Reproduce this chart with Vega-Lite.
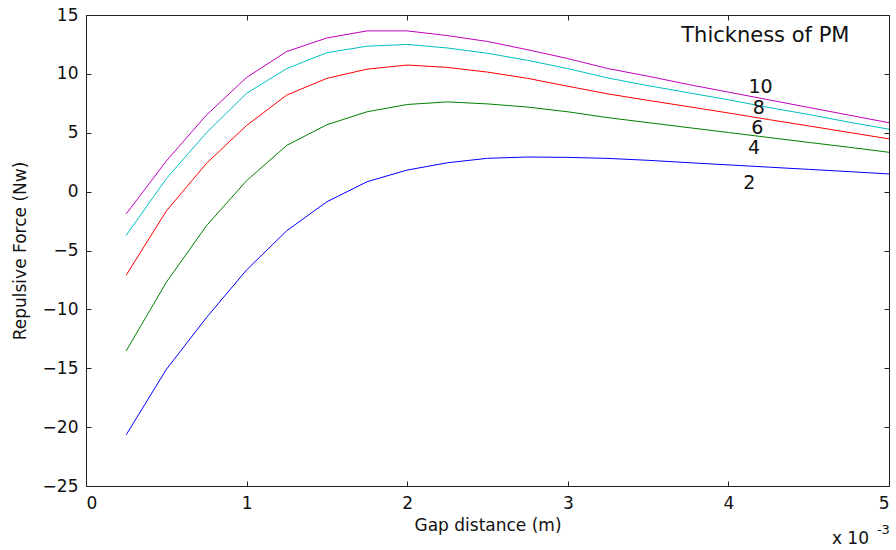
{
  "$schema": "https://vega.github.io/schema/vega-lite/v6.json",
  "width": 803,
  "height": 471,
  "autosize": "none",
  "padding": {"left": 86, "top": 15, "right": 7, "bottom": 64},
  "background": "white",
  "config": {
    "view": {"stroke": "#222222", "strokeWidth": 1},
    "font": "DejaVu Sans",
    "axis": {
      "domain": false,
      "grid": false,
      "tickColor": "#222222",
      "tickSize": -5,
      "labelColor": "#111111",
      "labelFont": "DejaVu Sans",
      "labelFontSize": 17,
      "titleFont": "DejaVu Sans",
      "titleFontSize": 17,
      "titleFontWeight": "normal",
      "titleColor": "#111111"
    }
  },
  "datasets": {
    "curves": [
      {"x":0.25,"s":"10","y":-1.9},{"x":0.5,"s":"10","y":2.6},{"x":0.75,"s":"10","y":6.5},{"x":1.0,"s":"10","y":9.7},{"x":1.25,"s":"10","y":11.9},{"x":1.5,"s":"10","y":13.05},{"x":1.75,"s":"10","y":13.65},{"x":2.0,"s":"10","y":13.65},{"x":2.25,"s":"10","y":13.25},{"x":2.5,"s":"10","y":12.75},{"x":2.75,"s":"10","y":12.05},{"x":3.0,"s":"10","y":11.3},{"x":3.25,"s":"10","y":10.45},{"x":3.5,"s":"10","y":9.8},{"x":3.75,"s":"10","y":9.1},{"x":4.0,"s":"10","y":8.45},{"x":4.25,"s":"10","y":7.8},{"x":4.5,"s":"10","y":7.15},{"x":4.75,"s":"10","y":6.5},{"x":5.0,"s":"10","y":5.85},
      {"x":0.25,"s":"8","y":-3.72},{"x":0.5,"s":"8","y":1.1},{"x":0.75,"s":"8","y":5.0},{"x":1.0,"s":"8","y":8.35},{"x":1.25,"s":"8","y":10.45},{"x":1.5,"s":"8","y":11.8},{"x":1.75,"s":"8","y":12.35},{"x":2.0,"s":"8","y":12.5},{"x":2.25,"s":"8","y":12.2},{"x":2.5,"s":"8","y":11.75},{"x":2.75,"s":"8","y":11.15},{"x":3.0,"s":"8","y":10.45},{"x":3.25,"s":"8","y":9.65},{"x":3.5,"s":"8","y":9.0},{"x":3.75,"s":"8","y":8.4},{"x":4.0,"s":"8","y":7.8},{"x":4.25,"s":"8","y":7.15},{"x":4.5,"s":"8","y":6.55},{"x":4.75,"s":"8","y":5.9},{"x":5.0,"s":"8","y":5.3},
      {"x":0.25,"s":"6","y":-7.1},{"x":0.5,"s":"6","y":-1.65},{"x":0.75,"s":"6","y":2.4},{"x":1.0,"s":"6","y":5.62},{"x":1.25,"s":"6","y":8.2},{"x":1.5,"s":"6","y":9.62},{"x":1.75,"s":"6","y":10.4},{"x":2.0,"s":"6","y":10.75},{"x":2.25,"s":"6","y":10.55},{"x":2.5,"s":"6","y":10.15},{"x":2.75,"s":"6","y":9.62},{"x":3.0,"s":"6","y":8.95},{"x":3.25,"s":"6","y":8.3},{"x":3.5,"s":"6","y":7.75},{"x":3.75,"s":"6","y":7.22},{"x":4.0,"s":"6","y":6.68},{"x":4.25,"s":"6","y":6.12},{"x":4.5,"s":"6","y":5.58},{"x":4.75,"s":"6","y":5.03},{"x":5.0,"s":"6","y":4.48},
      {"x":0.25,"s":"4","y":-13.53},{"x":0.5,"s":"4","y":-7.7},{"x":0.75,"s":"4","y":-2.9},{"x":1.0,"s":"4","y":0.93},{"x":1.25,"s":"4","y":3.93},{"x":1.5,"s":"4","y":5.68},{"x":1.75,"s":"4","y":6.78},{"x":2.0,"s":"4","y":7.4},{"x":2.25,"s":"4","y":7.62},{"x":2.5,"s":"4","y":7.45},{"x":2.75,"s":"4","y":7.18},{"x":3.0,"s":"4","y":6.78},{"x":3.25,"s":"4","y":6.28},{"x":3.5,"s":"4","y":5.86},{"x":3.75,"s":"4","y":5.44},{"x":4.0,"s":"4","y":5.02},{"x":4.25,"s":"4","y":4.6},{"x":4.5,"s":"4","y":4.18},{"x":4.75,"s":"4","y":3.77},{"x":5.0,"s":"4","y":3.34},
      {"x":0.25,"s":"2","y":-20.66},{"x":0.5,"s":"2","y":-15.1},{"x":0.75,"s":"2","y":-10.7},{"x":1.0,"s":"2","y":-6.65},{"x":1.25,"s":"2","y":-3.32},{"x":1.5,"s":"2","y":-0.86},{"x":1.75,"s":"2","y":0.84},{"x":2.0,"s":"2","y":1.83},{"x":2.25,"s":"2","y":2.45},{"x":2.5,"s":"2","y":2.83},{"x":2.75,"s":"2","y":2.94},{"x":3.0,"s":"2","y":2.91},{"x":3.25,"s":"2","y":2.82},{"x":3.5,"s":"2","y":2.66},{"x":3.75,"s":"2","y":2.46},{"x":4.0,"s":"2","y":2.27},{"x":4.25,"s":"2","y":2.08},{"x":4.5,"s":"2","y":1.89},{"x":4.75,"s":"2","y":1.7},{"x":5.0,"s":"2","y":1.5}
    ],
    "labels": [
      {"x":4.2,"y":8.88,"t":"10"},
      {"x":4.19,"y":7.1,"t":"8"},
      {"x":4.18,"y":5.44,"t":"6"},
      {"x":4.16,"y":3.7,"t":"4"},
      {"x":4.13,"y":0.77,"t":"2"}
    ],
    "title": [{"x":4.23,"y":13.2,"t":"Thickness of PM"}],
    "expbase": [{"x":4.76,"y":-29.5,"t":"x 10"}],
    "exppow": [{"x":4.965,"y":-28.75,"t":"-3"}]
  },
  "layer": [
    {
      "data": {"name": "curves"},
      "mark": {"type": "line", "strokeWidth": 1, "clip": false},
      "encoding": {
        "x": {"field": "x", "type": "quantitative", "scale": {"domain": [0, 5], "nice": false, "zero": false},
              "axis": {"title": "Gap distance (m)", "values": [0,1,2,3,4,5], "labelPadding": 14, "titlePadding": 6}},
        "y": {"field": "y", "type": "quantitative", "scale": {"domain": [-25, 15], "nice": false, "zero": false},
              "axis": {"title": "Repulsive Force (Nw)", "values": [-25,-20,-15,-10,-5,0,5,10,15], "labelPadding": 13, "titlePadding": 13}},
        "color": {"field": "s", "type": "nominal", "legend": null,
                  "scale": {"domain": ["2","4","6","8","10"], "range": ["#0000FF","#008000","#FF0000","#00BFBF","#BF00BF"]}},
        "detail": {"field": "s"}
      }
    },
    {
      "data": {"name": "curves"},
      "mark": {"type": "line", "strokeOpacity": 0},
      "encoding": {
        "x": {"field": "x", "type": "quantitative", "scale": {"domain": [0, 5], "nice": false, "zero": false},
              "axis": {"orient": "top", "title": null, "labels": false, "values": [0,1,2,3,4,5]}},
        "y": {"field": "y", "type": "quantitative", "scale": {"domain": [-25, 15], "nice": false, "zero": false},
              "axis": {"orient": "right", "title": null, "labels": false, "values": [-25,-20,-15,-10,-5,0,5,10,15]}},
        "detail": {"field": "s"}
      }
    },
    {
      "data": {"name": "labels"},
      "mark": {"type": "text", "font": "DejaVu Sans", "fontSize": 19, "align": "center", "baseline": "middle", "color": "#111111"},
      "encoding": {
        "x": {"field": "x", "type": "quantitative", "axis": null},
        "y": {"field": "y", "type": "quantitative", "axis": null},
        "text": {"field": "t"}
      }
    },
    {
      "data": {"name": "title"},
      "mark": {"type": "text", "font": "DejaVu Sans", "fontSize": 21, "align": "center", "baseline": "middle", "color": "#111111"},
      "encoding": {
        "x": {"field": "x", "type": "quantitative", "axis": null},
        "y": {"field": "y", "type": "quantitative", "axis": null},
        "text": {"field": "t"}
      }
    },
    {
      "data": {"name": "expbase"},
      "mark": {"type": "text", "font": "DejaVu Sans", "fontSize": 17, "align": "center", "baseline": "middle", "color": "#111111", "clip": false},
      "encoding": {
        "x": {"field": "x", "type": "quantitative", "axis": null},
        "y": {"field": "y", "type": "quantitative", "axis": null},
        "text": {"field": "t"}
      }
    },
    {
      "data": {"name": "exppow"},
      "mark": {"type": "text", "font": "DejaVu Sans", "fontSize": 13, "align": "center", "baseline": "middle", "color": "#111111", "clip": false},
      "encoding": {
        "x": {"field": "x", "type": "quantitative", "axis": null},
        "y": {"field": "y", "type": "quantitative", "axis": null},
        "text": {"field": "t"}
      }
    }
  ],
  "resolve": {"axis": {"x": "independent", "y": "independent"}}
}
